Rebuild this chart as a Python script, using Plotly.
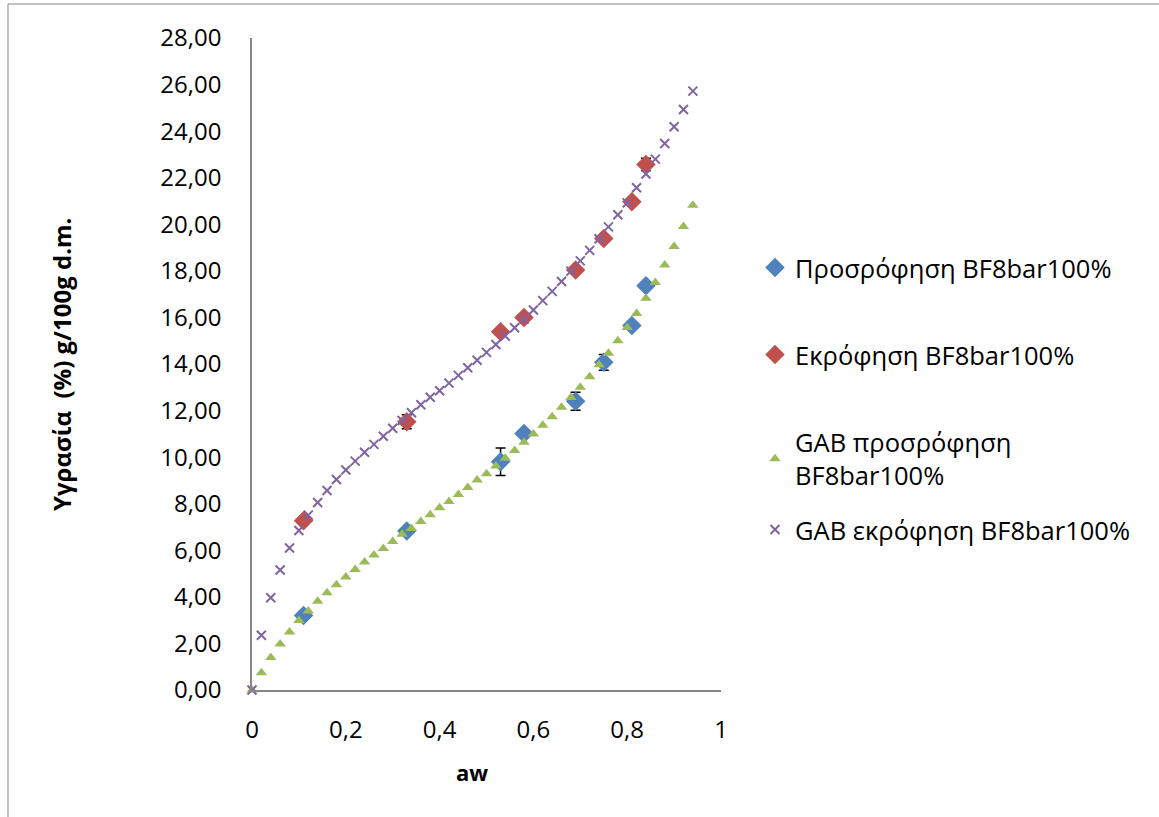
import plotly.graph_objects as go

# ---------------- data ----------------
aw_exp = [0.11, 0.33, 0.53, 0.58, 0.69, 0.75, 0.81, 0.84]
sorption = [3.20, 6.83, 9.80, 11.02, 12.40, 14.07, 15.65, 17.36]
sorption_err = [0, 0, 0.59, 0, 0.39, 0.34, 0, 0]
desorption = [7.27, 11.52, 15.38, 16.00, 18.04, 19.39, 20.97, 22.57]
desorption_err = [0, 0.30, 0, 0, 0, 0, 0, 0.27]

aw_gab = [0.00, 0.02, 0.04, 0.06, 0.08, 0.10, 0.12, 0.14, 0.16, 0.18,
          0.20, 0.22, 0.24, 0.26, 0.28, 0.30, 0.32, 0.34, 0.36, 0.38,
          0.40, 0.42, 0.44, 0.46, 0.48, 0.50, 0.52, 0.54, 0.56, 0.58,
          0.60, 0.62, 0.64, 0.66, 0.68, 0.70, 0.72, 0.74, 0.76, 0.78,
          0.80, 0.82, 0.84, 0.86, 0.88, 0.90, 0.92, 0.94]
gab_sorption = [0.00, 0.74, 1.40, 1.98, 2.49, 2.98, 3.39, 3.81, 4.18, 4.52,
                4.85, 5.18, 5.50, 5.80, 6.08, 6.38, 6.69, 6.94, 7.24, 7.53,
                7.83, 8.10, 8.40, 8.70, 9.02, 9.29, 9.62, 9.95, 10.28, 10.64,
                10.99, 11.37, 11.74, 12.14, 12.56, 13.00, 13.45, 13.97, 14.46, 15.00,
                15.57, 16.17, 16.82, 17.50, 18.25, 19.05, 19.91, 20.82]
gab_desorption = [0.00, 2.35, 3.96, 5.15, 6.10, 6.85, 7.51, 8.05, 8.57, 9.04,
                  9.45, 9.83, 10.21, 10.55, 10.90, 11.24, 11.57, 11.91, 12.25, 12.57,
                  12.85, 13.18, 13.51, 13.84, 14.16, 14.50, 14.84, 15.20, 15.56, 15.92,
                  16.32, 16.72, 17.12, 17.54, 17.99, 18.43, 18.88, 19.38, 19.89, 20.41,
                  20.92, 21.57, 22.16, 22.80, 23.47, 24.19, 24.93, 25.72]

names = ["Προσρόφηση BF8bar100%", "Εκρόφηση BF8bar100%",
         "GAB προσρόφηση<br>BF8bar100%", "GAB εκρόφηση BF8bar100%"]
x_ticks = [0, 0.2, 0.4, 0.6, 0.8, 1]
y_ticks = [0, 2, 4, 6, 8, 10, 12, 14, 16, 18, 20, 22, 24, 26, 28]

# ---------------- figure ----------------
W, H = 1159, 817
L, R, T, B = 252, 721, 38, 690  # plot area pixel box
FONT = "Open Sans"

def px(xp):
    return (xp - L) / (R - L)

def py(yp):
    return (B - yp) / (B - T)

fig = go.Figure()

err_style = dict(type="data", visible=True, color="black", thickness=1.5, width=5)

fig.add_trace(go.Scatter(
    x=aw_exp, y=sorption, mode="markers", name=names[0], legend="legend",
    marker=dict(symbol="diamond", size=15, color="#4F81BD"),
    error_y=dict(array=sorption_err, **err_style), cliponaxis=False))
fig.add_trace(go.Scatter(
    x=aw_exp, y=desorption, mode="markers", name=names[1], legend="legend2",
    marker=dict(symbol="diamond", size=15, color="#C0504D"),
    error_y=dict(array=desorption_err, **err_style), cliponaxis=False))
fig.add_trace(go.Scatter(
    x=aw_gab, y=gab_sorption, mode="markers", name=names[2], legend="legend3",
    marker=dict(symbol="triangle-up", size=10, color="#9BBB59"),
    cliponaxis=False))
fig.add_trace(go.Scatter(
    x=aw_gab, y=gab_desorption, mode="markers", name=names[3], legend="legend4",
    marker=dict(symbol="x-thin", size=9, color="#8064A2",
                line=dict(color="#8064A2", width=2)),
    cliponaxis=False))

legend_common = dict(font=dict(family=FONT, size=25.5, color="black"),
                     bgcolor="rgba(0,0,0,0)", borderwidth=0,
                     xanchor="left", yanchor="middle", x=px(755))
legend_y = [268, 355, 459, 530]

fig.update_layout(
    width=W, height=H,
    margin=dict(l=L, r=W - R, t=T, b=H - B, pad=0),
    paper_bgcolor="white", plot_bgcolor="white",
    separators=",.",
    font=dict(family=FONT, size=24, color="black"),
    showlegend=True,
    legend=dict(y=py(legend_y[0]), **legend_common),
    legend2=dict(y=py(legend_y[1]), **legend_common),
    legend3=dict(y=py(legend_y[2]), **legend_common),
    legend4=dict(y=py(legend_y[3]), **legend_common),
    xaxis=dict(range=[0, 1], tickvals=x_ticks, showgrid=False, zeroline=False,
               showline=True, linecolor="#868686", linewidth=1.5,
               ticks="", ticklabelstandoff=17,
               tickfont=dict(family=FONT, size=24, color="black")),
    yaxis=dict(range=[0, 28], tickvals=y_ticks, tickformat=".2f",
               showgrid=False, zeroline=False,
               showline=True, linecolor="#868686", linewidth=1.5,
               ticks="", ticklabelstandoff=24,
               tickfont=dict(family=FONT, size=24, color="black")),
    annotations=[
        dict(text="<b>aw</b>", xref="paper", yref="paper",
             x=px(472), y=py(772), xanchor="center", yanchor="middle",
             showarrow=False,
             font=dict(family=FONT, size=22, color="black")),
        dict(text="<b>Υγρασία  (%) g/100g d.m.</b>", xref="paper", yref="paper",
             x=px(61), y=py(365), xanchor="center", yanchor="middle",
             showarrow=False, textangle=-90,
             font=dict(family=FONT, size=24, color="black")),
    ],
    shapes=[
        dict(type="line", xref="paper", yref="paper",
             x0=px(8), x1=px(8), y0=py(4), y1=py(830),
             line=dict(color="#868686", width=1)),
        dict(type="line", xref="paper", yref="paper",
             x0=px(8), x1=px(1170), y0=py(4), y1=py(4),
             line=dict(color="#868686", width=1)),
    ],
)

fig.write_html("out.html")
